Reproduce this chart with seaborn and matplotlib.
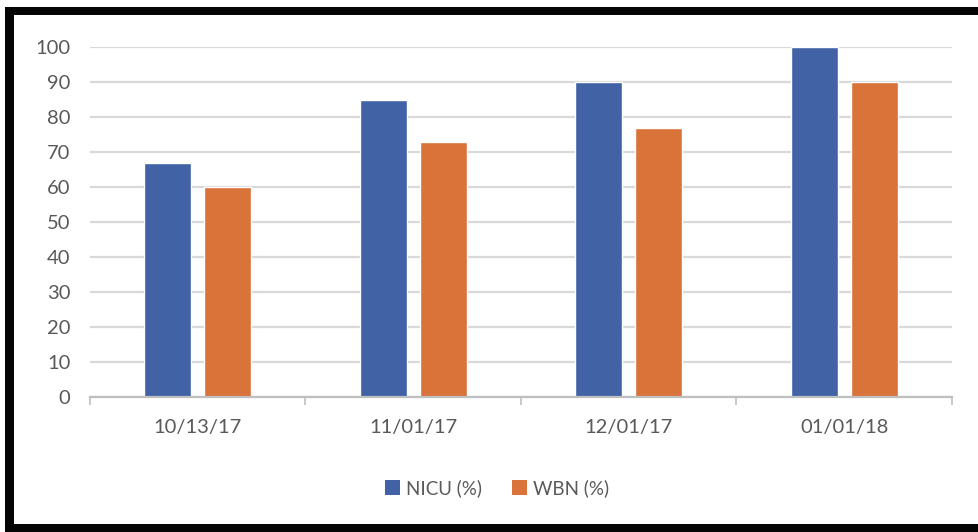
import matplotlib
matplotlib.use("Agg")
import matplotlib.pyplot as plt
import seaborn as sns
import pandas as pd
from matplotlib.patches import Rectangle, Patch

dates = ["10/13/17", "11/01/17", "12/01/17", "01/01/18"]
nicu = [67, 85, 90, 100]
wbn = [60, 73, 77, 90]
series_names = ["NICU (%)", "WBN (%)"]
yticks = [0, 10, 20, 30, 40, 50, 60, 70, 80, 90, 100]

df = pd.DataFrame({
    "date": dates * 2,
    "value": nicu + wbn,
    "series": [series_names[0]] * len(dates) + [series_names[1]] * len(dates),
})

sns.set_theme(style="white")
plt.rcParams["font.family"] = ["Lato", "DejaVu Sans"]

W, H = 979, 532
fig = plt.figure(figsize=(W / 100, H / 100), dpi=100)
fig.patch.set_facecolor("white")
ax = fig.add_axes([90 / W, 1 - 397 / H, (952 - 90) / W, (397 - 47) / H])

colors = {"NICU (%)": "#4163A6", "WBN (%)": "#D9733A"}
sns.barplot(data=df, x="date", y="value", hue="series", order=dates,
            hue_order=series_names, palette=colors, width=0.56, gap=0.22,
            ax=ax, legend=False, saturation=1)

ax.set_xlim(-0.5, len(dates) - 0.5)
ax.set_ylim(0, 100)
ax.set_yticks(yticks)
ax.grid(axis="y", color="#D9D9D9", linewidth=1.6)
ax.set_axisbelow(True)
for s in ["left", "right", "top"]:
    ax.spines[s].set_visible(False)
ax.spines["bottom"].set_color("#BFBFBF")
ax.spines["bottom"].set_linewidth(1.6)
ax.set_xlabel("")
ax.set_ylabel("")
ax.tick_params(axis="y", length=0, labelsize=14.5, labelcolor="#595959", pad=14)
ax.tick_params(axis="x", which="major", length=0, labelsize=14.5, labelcolor="#595959", pad=16)
# category boundary ticks
ax.set_xticks([i - 0.5 for i in range(len(dates) + 1)], minor=True)
ax.tick_params(axis="x", which="minor", bottom=True, length=6, color="#BFBFBF",
               width=1.2, direction="out")

handles = [Patch(facecolor=colors[n], edgecolor="none") for n in series_names]
fig.legend(handles, series_names, loc="center", bbox_to_anchor=(497 / W, 1 - 488 / H),
           ncol=2, frameon=False, fontsize=13.5, labelcolor="#595959",
           handlelength=0.8, handleheight=0.8, handletextpad=0.3, columnspacing=1.6)

# black frame
black = "#050505"
fig.add_artist(Rectangle((5 / W, 1 - 15 / H), 1 - 5 / W, 8 / H, transform=fig.transFigure,
                         facecolor=black, edgecolor="none"))
fig.add_artist(Rectangle((5 / W, 0), 1 - 5 / W, 8 / H, transform=fig.transFigure,
                         facecolor=black, edgecolor="none"))
fig.add_artist(Rectangle((5 / W, 0), 9 / W, 1 - 7 / H, transform=fig.transFigure,
                         facecolor=black, edgecolor="none"))

fig.savefig("out.png", dpi=100, facecolor="white")
